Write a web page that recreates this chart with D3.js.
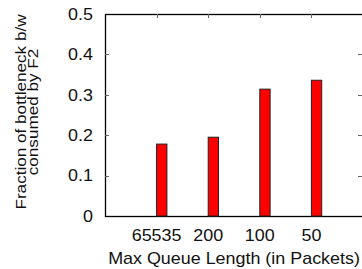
<!DOCTYPE html>
<html>
<head>
<meta charset="utf-8">
<script src="https://cdn.jsdelivr.net/npm/d3@7"></script>
<style>
  body { margin: 0; background: #fff; }
  svg { display: block; font-family: "Liberation Sans", Arial, Helvetica, sans-serif; }
</style>
</head>
<body>
<svg id="chart" width="362" height="269"></svg>
<script>
const categories = ['65535', '200', '100', '50'];
const fractionF2 = [0.178, 0.195, 0.314, 0.336];
const yTicks = [0, 0.1, 0.2, 0.3, 0.4, 0.5];

const svg = d3.select('#chart');
const plotLeft = 105;
const plotRight = 363;
const plotTop = 14;
const plotBottom = 216;
const fontSize = 16;
const stretch = 1.12; // the original glyphs are a bit wider than Arial

const x = d3.scaleLinear().domain([0, categories.length + 1]).range([plotLeft, plotRight]);
const y = d3.scaleLinear().domain([0, 0.5]).range([plotBottom, plotTop]);
const boxw = 0.2;

// frame
svg.append('rect')
  .attr('x', plotLeft + 0.5)
  .attr('y', plotTop + 0.5)
  .attr('width', plotRight - plotLeft)
  .attr('height', plotBottom - plotTop)
  .attr('fill', 'none')
  .attr('stroke', '#000')
  .attr('stroke-width', 1.3);

// y ticks, inward on both sides
const gy = svg.append('g');
gy.selectAll('line.l')
  .data(yTicks.slice(1, -1))
  .enter()
  .append('line')
  .attr('class', 'l')
  .attr('x1', plotLeft)
  .attr('x2', plotLeft + 4)
  .attr('y1', (d) => Math.round(y(d)) + 0.5)
  .attr('y2', (d) => Math.round(y(d)) + 0.5)
  .attr('stroke', '#666');
gy.selectAll('line.r')
  .data(yTicks.slice(1, -1))
  .enter()
  .append('line')
  .attr('class', 'r')
  .attr('x1', plotRight - 5)
  .attr('x2', plotRight)
  .attr('y1', (d) => Math.round(y(d)) + 0.5)
  .attr('y2', (d) => Math.round(y(d)) + 0.5)
  .attr('stroke', '#666');
gy.selectAll('text')
  .data(yTicks)
  .enter()
  .append('text')
  .attr('transform', (d) => `translate(93,${y(d)}) scale(${stretch},1)`)
  .attr('dy', '0.36em')
  .attr('text-anchor', 'end')
  .attr('font-size', fontSize)
  .attr('fill', '#111')
  .text((d) => (d === 0 ? '0' : d.toFixed(1)));

// x ticks along top
const gx = svg.append('g');
gx.selectAll('line')
  .data(categories)
  .enter()
  .append('line')
  .attr('x1', (d, i) => Math.round(x(i + 1)) + 0.5)
  .attr('x2', (d, i) => Math.round(x(i + 1)) + 0.5)
  .attr('y1', plotTop)
  .attr('y2', plotTop + 4)
  .attr('stroke', '#666');
gx.selectAll('text')
  .data(categories)
  .enter()
  .append('text')
  .attr('transform', (d, i) => `translate(${x(i + 1)},240.5) scale(${stretch},1)`)
  .attr('text-anchor', 'middle')
  .attr('font-size', fontSize)
  .attr('fill', '#111')
  .text((d) => d);

// bars
svg.append('g')
  .selectAll('rect')
  .data(fractionF2)
  .enter()
  .append('rect')
  .attr('x', (d, i) => x(i + 1))
  .attr('y', (d) => y(d))
  .attr('width', (d, i) => x(i + 1 + boxw) - x(i + 1))
  .attr('height', (d) => y(0) - y(d))
  .attr('fill', '#ff0000')
  .attr('stroke', '#222')
  .attr('stroke-width', 1);

// axis titles
svg.append('text')
  .attr('transform', `translate(${(plotLeft + plotRight) / 2},263.5) scale(${stretch},1)`)
  .attr('text-anchor', 'middle')
  .attr('font-size', fontSize)
  .attr('fill', '#111')
  .text('Max Queue Length (in Packets)');

const ylab = svg.append('text')
  .attr('transform', `translate(0,112) rotate(-90) scale(${stretch},1)`)
  .attr('text-anchor', 'middle')
  .attr('font-size', 15.3)
  .attr('fill', '#111');
ylab.append('tspan').attr('x', 0).attr('y', 26).text('Fraction of bottleneck b/w');
ylab.append('tspan').attr('x', 0).attr('y', 38.5).text('consumed by F2');
</script>
</body>
</html>
